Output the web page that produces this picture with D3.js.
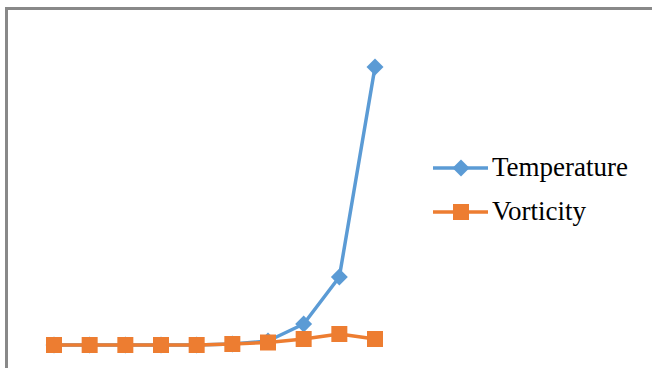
<!DOCTYPE html>
<html>
<head>
<meta charset="utf-8">
<script src="https://cdn.jsdelivr.net/npm/d3@7/dist/d3.min.js"></script>
<style>
  html, body { margin: 0; padding: 0; background: #fff; }
  svg { display: block; }
</style>
</head>
<body>
<svg id="chart" width="652" height="368"></svg>
<script>
// Sample positions along the run
const steps = [1, 2, 3, 4, 5, 6, 7, 8, 9, 10];
// Series values
const temperature = [0, 0, 0, 0, 0, 1, 4, 21, 68, 278];
const vorticity = [0, 0, 0, 0, 0, 1, 2.5, 6, 11, 6];
const seriesNames = ["Temperature", "Vorticity"];
const seriesColors = ["#5B9BD5", "#ED7D31"];

const svg = d3.select("#chart");
const W = 652, H = 368;

// Chart frame (outer border, open at right and bottom edges)
svg.append("rect")
  .attr("x", 6.5).attr("y", 8.5)
  .attr("width", W + 10).attr("height", H + 10)
  .attr("fill", "#fff")
  .attr("stroke", "#898989")
  .attr("stroke-width", 3);

const x = d3.scaleLinear().domain([1, 10]).range([54, 375]);
const y = d3.scaleLinear().domain([0, 278]).range([345, 67]);

const line = d3.line()
  .x((d, i) => x(steps[i]))
  .y(d => y(d));

const diamond = d3.symbol().type(d3.symbolSquare).size(144);
const square = d3.symbol().type(d3.symbolSquare).size(256);

// Temperature series
svg.append("path")
  .datum(temperature)
  .attr("fill", "none")
  .attr("stroke", seriesColors[0])
  .attr("stroke-width", 3.5)
  .attr("stroke-linejoin", "round")
  .attr("d", line);

svg.append("g").selectAll("path")
  .data(temperature)
  .join("path")
  .attr("transform", (d, i) => `translate(${x(steps[i])},${y(d)}) rotate(45)`)
  .attr("d", diamond)
  .attr("fill", seriesColors[0]);

// Vorticity series
svg.append("path")
  .datum(vorticity)
  .attr("fill", "none")
  .attr("stroke", seriesColors[1])
  .attr("stroke-width", 3.5)
  .attr("stroke-linejoin", "round")
  .attr("d", line);

svg.append("g").selectAll("path")
  .data(vorticity)
  .join("path")
  .attr("transform", (d, i) => `translate(${x(steps[i])},${y(d)})`)
  .attr("d", square)
  .attr("fill", seriesColors[1]);

// Legend
const legend = svg.append("g").attr("transform", "translate(433,168)");
seriesNames.forEach((name, i) => {
  const g = legend.append("g").attr("transform", `translate(0,${i * 44})`);
  g.append("line")
    .attr("x1", 0).attr("x2", 55).attr("y1", 0).attr("y2", 0)
    .attr("stroke", seriesColors[i]).attr("stroke-width", 3.5);
  g.append("path")
    .attr("transform", i === 0 ? "translate(28,0) rotate(45)" : "translate(28,0)")
    .attr("d", i === 0 ? diamond : square)
    .attr("fill", seriesColors[i]);
  g.append("text")
    .attr("x", 59).attr("y", 8)
    .attr("font-family", "'Liberation Serif', 'Times New Roman', serif")
    .attr("font-size", 27)
    .attr("fill", "#000")
    .text(name);
});
</script>
</body>
</html>
